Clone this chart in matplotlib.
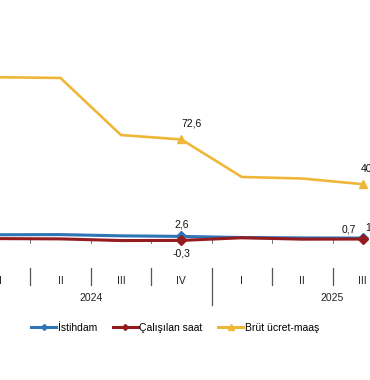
import numpy as np
import matplotlib
matplotlib.use("Agg")
import matplotlib.pyplot as plt
from matplotlib.lines import Line2D

plt.rcParams['font.family'] = ['Liberation Sans', 'DejaVu Sans']

quarters = ["I", "II", "III", "IV", "I", "II", "III"]
years = ["2024", "2025"]
istihdam = [3.8, 3.9, 3.0, 2.6, 1.8, 1.5, 1.4]
calisilan_saat = [1.0, 0.8, -0.4, -0.3, 1.6, 0.6, 0.7]
brut_ucret = [117.5, 117.0, 75.8, 72.6, 45.5, 44.4, 40.3]
marked = [3, 6]

c_blue = "#2f74b5"
c_red = "#951b1e"
c_yel = "#efb73a"

fig = plt.figure(figsize=(3.7, 3.8), dpi=100)
ax = fig.add_axes([0, 1 - 268 / 380, 1, 268 / 380])
x = np.arange(len(quarters))

ax.plot(x, brut_ucret, color=c_yel, lw=1.9, marker="^", ms=6, markevery=marked, zorder=3)
ax.plot(x, istihdam, color=c_blue, lw=2.2, marker="D", ms=5, markevery=marked, zorder=4)
ax.plot(x, calisilan_saat, color=c_red, lw=2.2, marker="D", ms=5, markevery=marked, zorder=5)

ax.set_xlim(7 / 61.6, 377 / 61.6)
ax.set_ylim(-28 / 1.385, 240 / 1.385)
for s in ax.spines.values():
    s.set_visible(False)
ax.set_yticks([])
ax.set_xticks(x)
ax.set_xticklabels(quarters, fontsize=7.5, color="#222222")
ax.tick_params(axis="x", length=0, pad=6)

# separators under the axis
tr = ax.get_xaxis_transform()
for b in [-0.5, 0.5, 1.5, 2.5, 4.5, 5.5, 6.5]:
    ax.plot([b, b], [0, -17 / 268], transform=tr, color="#555555", lw=0.9, clip_on=False)
ax.plot([3.5, 3.5], [0, -37 / 268], transform=tr, color="#555555", lw=0.9, clip_on=False)
# small marks on the zero line
for b in [-0.5, 0.5, 1.5, 2.5, 3.5, 4.5, 5.5, 6.5]:
    ax.plot([b, b], [0, -2.2], color="#777777", lw=0.7, zorder=1)

ax.text(1.5, -30 / 268, years[0], transform=tr, ha="center", va="center", fontsize=7.5, color="#222222")
ax.text(5.5, -30 / 268, years[1], transform=tr, ha="center", va="center", fontsize=7.5, color="#222222")

def fmt(v):
    return ("%.1f" % v).replace(".", ",")

lab = dict(fontsize=7.5, color="#111111")
ax.annotate(fmt(brut_ucret[3]), (3, brut_ucret[3]), xytext=(0, 8), textcoords="offset points", ha="left", va="bottom", **lab)
ax.annotate(fmt(brut_ucret[6]), (6, brut_ucret[6]), xytext=(-1.5, 8), textcoords="offset points", ha="left", va="bottom", **lab)
ax.annotate(fmt(istihdam[3]), (3, istihdam[3]), xytext=(0, 5), textcoords="offset points", ha="center", va="bottom", **lab)
ax.annotate(fmt(calisilan_saat[3]), (3, calisilan_saat[3]), xytext=(0, -6), textcoords="offset points", ha="center", va="top", **lab)
ax.annotate(fmt(calisilan_saat[6]), (6, calisilan_saat[6]), xytext=(-5, 3), textcoords="offset points", ha="right", va="bottom", **lab)
ax.annotate(fmt(istihdam[6]), (6, istihdam[6]), xytext=(2, 4), textcoords="offset points", ha="left", va="bottom", **lab)

handles = [
    Line2D([], [], color=c_blue, lw=2.2, marker="D", ms=3),
    Line2D([], [], color=c_red, lw=2.2, marker="D", ms=3),
    Line2D([], [], color=c_yel, lw=2.2, marker="^", ms=4),
]
fig.legend(handles, ["İstihdam", "Çalışılan saat", "Brüt ücret-maaş"], loc="center",
           bbox_to_anchor=(175 / 370, 1 - 328 / 380), ncol=3, frameon=False, fontsize=7.5,
           handlelength=2.4, handletextpad=0.15, columnspacing=1.5)

fig.savefig("out.png", dpi=100)
